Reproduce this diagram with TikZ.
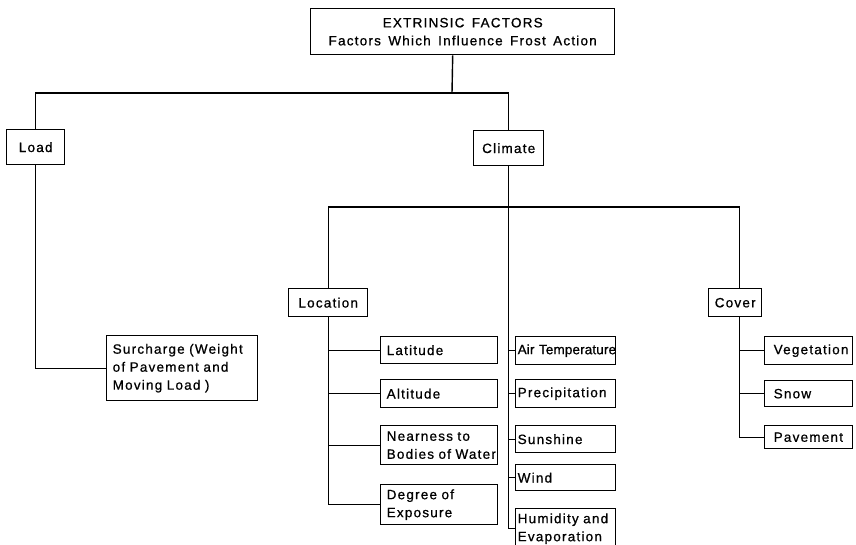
\documentclass[tikz,border=0pt]{standalone}
\usepackage{fontspec}
\newfontfamily\lettering[LetterSpace=9, WordSpace=1.5, FakeBold=0.8]{Liberation Sans}
\newfontfamily\tightlettering[LetterSpace=1, WordSpace=1.3, FakeBold=0.8]{Liberation Sans}
\usetikzlibrary{positioning}
\hyphenpenalty=10000

\tikzset{
  box/.style={draw, line width=1.4pt, inner ysep=1pt, anchor=north west,
    align=left, font={\lettering\fontsize{13.5}{18}\selectfont}},
  locleaf/.style={box, text width=105pt, inner xsep=6pt},
  climleaf/.style={box, text width=96pt, inner xsep=2pt},
  coverleaf/.style={box, text width=70pt, inner xsep=9pt},
  tie/.style={line width=1.4pt}
}

\begin{document}
\begin{tikzpicture}[x=1pt, y=-1pt]
  \useasboundingbox (0,0) rectangle (856,545);
  \clip (0,0) rectangle (856,545);

  % top of the tree
  \node[box, align=center, minimum width=304pt, minimum height=46pt] (root) at (310,8)
    {EXTRINSIC FACTORS\\Factors Which Influence Frost Action};
  \node[box, minimum width=58pt, minimum height=35pt, inner xsep=5pt] (load) at (6,129) {Load};
  \node[box, minimum width=70pt, minimum height=35pt, inner xsep=5pt] (climate) at (473,130) {Climate};
  \node[box, text width=139pt, inner xsep=6pt, minimum height=65pt] (surcharge) at (106,335)
    {Surcharge (Weight\\of Pavement and\\Moving Load )};

  % climate branches
  \node[box, minimum width=79pt, minimum height=28pt, inner xsep=5pt] (location) at (288,288) {Location};
  \node[box, minimum width=53pt, minimum height=28pt, inner xsep=4pt] (cover) at (708,288) {Cover};

  \node[locleaf, minimum height=27pt] (lat) at (380,336) {Latitude};
  \node[locleaf, minimum height=28pt] (alt) at (380,379) {Altitude};
  \node[locleaf, minimum height=39pt] (near) at (380,425) {Nearness to\\\mbox{Bodies of Water}};
  \node[locleaf, minimum height=40pt] (degree) at (380,484) {Degree of\\Exposure};

  \node[climleaf, minimum height=28pt] (air) at (515,336)
    {\tightlettering\fontsize{13.5}{18}\selectfont\mbox{Air Temperature}};
  \node[climleaf, minimum height=28pt] (precip) at (515,379) {Precipitation};
  \node[climleaf, minimum height=27pt] (sun) at (515,425) {Sunshine};
  \node[climleaf, minimum height=26pt] (wind) at (515,464) {Wind};
  \node[climleaf, minimum height=40pt] (hum) at (515,508) {Humidity and\\Evaporation};

  \node[coverleaf, minimum height=28pt] (veg) at (764,336) {Vegetation};
  \node[coverleaf, minimum height=26pt] (snow) at (764,380) {Snow};
  \node[coverleaf, minimum height=23pt] (pave) at (764,425) {Pavement};

  % connectors
  \coordinate (rootj) at (452,93);
  \coordinate (climj) at (508,207);
  \coordinate (covtop) at ([xshift=4pt]cover.north);
  \coordinate (covbot) at ([xshift=4pt]cover.south);
  \draw[tie] ([xshift=-10pt]root.south) -- (rootj);
  \draw[tie] (load.north) |- (rootj) -| (climate.north);
  \draw[tie] (load.south) |- (surcharge.west);
  \draw[tie] (climate.south) |- (hum.west);
  \draw[tie] (location.north) |- (climj) -| (covtop);
  \foreach \n in {air,precip,sun,wind}
    \draw[tie] (\n.west) -- (\n.west -| climate.south);
  \draw[tie] (location.south) |- (degree.west);
  \foreach \n in {lat,alt,near}
    \draw[tie] (\n.west) -- (\n.west -| location.south);
  \draw[tie] (covbot) |- (pave.west);
  \foreach \n in {veg,snow}
    \draw[tie] (\n.west) -- (\n.west -| covbot);
\end{tikzpicture}
\end{document}
